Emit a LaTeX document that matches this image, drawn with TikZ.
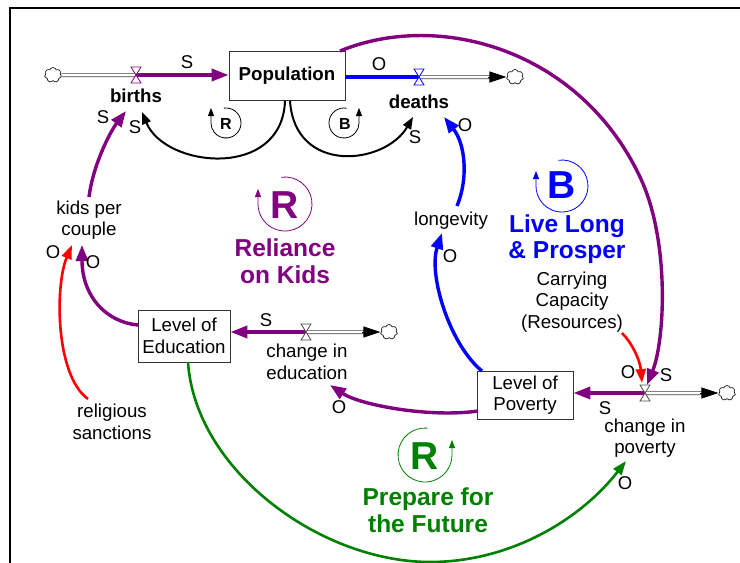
\documentclass[tikz,border=0pt]{standalone}
\usepackage{fontspec}
\setmainfont{Liberation Sans}
\usetikzlibrary{arrows.meta,shapes.symbols}
\definecolor{kpurple}{RGB}{128,0,128}
\definecolor{kblue}{RGB}{0,0,255}
\definecolor{kgreen}{RGB}{0,128,0}
\definecolor{kred}{RGB}{255,0,0}
\begin{document}
\begin{tikzpicture}[x=1pt,y=-1pt,
  txt/.style={font=\fontsize{18.7}{21.5}\selectfont, align=center, inner sep=0pt},
  btxt/.style={font=\fontsize{18.7}{21.5}\selectfont\bfseries, align=center, inner sep=0pt},
  pol/.style={font=\fontsize{18.5}{20}\selectfont, inner sep=0pt},
  stock/.style={draw=black!80, line width=0.8pt, align=center, inner sep=0pt,
    font=\fontsize{18.7}{21.5}\selectfont},
  looptitle/.style={font=\fontsize{24.5}{26.5}\selectfont\bfseries, align=center, inner sep=0pt},
  bigsym/.style={font=\fontsize{39}{39}\selectfont\bfseries, inner sep=0pt},
  smallsym/.style={font=\fontsize{16}{16}\selectfont\bfseries, inner sep=0pt},
  sink/.style={cloud, cloud puffs=7, aspect=1.1, draw, line width=0.6pt,
    minimum width=17pt, minimum height=15pt, inner sep=0pt},
  pipe/.style={draw=black!75, line width=0.7pt, double=white, double distance=2.6pt},
  pipehead/.style={line width=0.8pt, -{Triangle[length=17pt,width=11pt]}},
  flowline/.style={line width=3.6pt, -{Triangle[length=17pt,width=12pt]}},
  thick link/.style={line width=3.4pt, -{Triangle[length=16pt,width=12pt]}},
  thin link/.style={line width=2pt, -{Triangle[length=12pt,width=9pt]}},
  mid link/.style={line width=2.6pt, -{Triangle[length=14pt,width=10pt]}},
  loopsym/.style={line width=0.8pt, -{Triangle[length=8pt,width=6pt]}},
  pics/valve/.style={code={
    \draw[pic actions, fill=white, line width=0.8pt]
      (-5,-8) -- (5,-8) -- (-5,8) -- (5,8) -- cycle;}}
]
\useasboundingbox (0,0) rectangle (740,563);

% outer frame
\draw[line width=1.6pt] (10,563) -- (10,8) -- (740,8);

% ---- stocks ----
\node[stock, font=\fontsize{18.7}{21.5}\selectfont\bfseries,
  minimum width=116pt, minimum height=49pt] (pop) at (287,75.5) {Population};
\node[stock, minimum width=92pt, minimum height=52pt] (edu) at (184,336) {Level of\\Education};
\node[stock, minimum width=96pt, minimum height=48pt] (pov) at (525,395) {Level of\\Poverty};

% ---- valve positions ----
\coordinate (vb) at (136,75);
\coordinate (vd) at (419,77);
\coordinate (ve) at (306,332);
\coordinate (vp) at (645,393);

% ---- sources and sinks ----
\node[sink] (cb) at (53,75) {};
\node[sink] (cd) at (515,77) {};
\node[sink] (ce) at (389,332) {};
\node[sink] (cp) at (727,393) {};

% ---- variables ----
\node[btxt] (births) at (136,96) {births};
\node[btxt] (deaths) at (419,102) {deaths};
\node[txt] (kids) at (89,220) {kids per\\couple};
\node[txt] (relig) at (112,422) {religious\\sanctions};
\node[txt] (longev) at (451,221) {longevity};
\node[txt] (carry) at (572,302) {Carrying\\Capacity\\(Resources)};
\node[txt] (chedu) at (307,362) {change in\\education};
\node[txt] (chpov) at (645,438) {change in\\poverty};

% ---- loop names ----
\node[looptitle, text=kpurple] (tRK) at (285,261) {Reliance\\on Kids};
\node[looptitle, text=kblue] (tLL) at (567,239) {Live Long\\\& Prosper};
\node[looptitle, text=kgreen] (tPF) at (428,510) {Prepare for\\the Future};

% ---- loop symbols ----
\node[smallsym] (sR) at (226,124) {R};
\node[smallsym] (sB) at (345,124) {B};
\node[bigsym, text=kpurple] (bR1) at (285,205) {R};
\node[bigsym, text=kblue] (bB) at (562,185) {B};
\node[bigsym, text=kgreen] (bR2) at (425,456) {R};

\draw[loopsym] (226,123) ++(262:15) arc[start angle=262, end angle=540, radius=15] -- ++(0,-15);
\draw[loopsym] (344,123) ++(280:15) arc[start angle=280, end angle=0, radius=15] -- ++(0,-15);
\draw[loopsym, draw=kpurple] (285,204) ++(262:27) arc[start angle=262, end angle=540, radius=27] -- ++(0,-15);
\draw[loopsym, draw=kblue] (562,186) ++(262:26) arc[start angle=262, end angle=540, radius=26] -- ++(0,-15);
\draw[loopsym, draw=kgreen] (425,455) ++(275:27) arc[start angle=275, end angle=0, radius=27] -- ++(0,-15);

% ---- pipes ----
\draw[pipe] (cb.east) -- (vb);
\draw[pipe] (vd) -- ([xshift=-14pt]cd.west);
\draw[pipehead] ([xshift=-18pt]cd.west) -- (cd.west);
\draw[pipe] (ve) -- ([xshift=-14pt]ce.west);
\draw[pipehead] ([xshift=-18pt]ce.west) -- (ce.west);
\draw[pipe] (vp) -- ([xshift=-14pt]cp.west);
\draw[pipehead] ([xshift=-18pt]cp.west) -- (cp.west);

% ---- flows ----
\draw[flowline, draw=kpurple] (vb) -- (pop.west |- vb);
\draw[line width=3.4pt, draw=kblue] (pop.east |- vd) -- (vd);
\draw[flowline, draw=kpurple] (ve) -- (edu.east |- ve);
\draw[flowline, draw=kpurple] (vp) -- (pov.east |- vp);

% ---- valves ----
\pic[draw=kpurple] at (vb) {valve};
\pic[draw=kblue] at (vd) {valve};
\pic[draw=black!70] at (ve) {valve};
\pic[draw=black!70] at (vp) {valve};

% ---- connector end points ----
\coordinate (popBL) at (285,101);
\coordinate (popBR) at (290,101);
\coordinate (popTR) at (340,51);
\coordinate (birthsIn1) at (142,112);
\coordinate (birthsIn2) at (126,111);
\coordinate (deathsIn1) at (413,117);
\coordinate (deathsIn2) at (444,117);
\coordinate (kidsOut) at (89,197);
\coordinate (kidsIn1) at (82,245);
\coordinate (kidsIn2) at (72,245);
\coordinate (religOut) at (88,399);
\coordinate (longOut) at (457,206);
\coordinate (longIn) at (442,233);
\coordinate (povTL) at (482,371);
\coordinate (povL) at (478,411);
\coordinate (eduL) at (138,325);
\coordinate (eduB) at (188,362);
\coordinate (cheduIn) at (330,385);
\coordinate (chpovIn) at (626,461);
\coordinate (carryOut) at (622,333);
\coordinate (vpTop1) at (642,383);
\coordinate (vpTop2) at (647,385);

% ---- causal links ----
\draw[thin link] (popBL) .. controls (282,180) and (165,168) .. (birthsIn1);
\draw[thin link] (popBR) .. controls (295,175) and (385,165) .. (deathsIn1);
\draw[thick link, draw=kpurple] (kidsOut) .. controls (93,165) and (110,132) .. (birthsIn2);
\draw[thick link, draw=kblue] (longOut) .. controls (468,180) and (466,145) .. (deathsIn2);
\draw[thick link, draw=kblue] (povTL) .. controls (450,345) and (428,275) .. (longIn);
\draw[thick link, draw=kpurple] (povL) .. controls (430,418) and (360,405) .. (cheduIn);
\draw[thick link, draw=kpurple] (eduL) .. controls (105,322) and (82,295) .. (kidsIn1);
\draw[mid link, draw=kred] (religOut) .. controls (55,375) and (55,285) .. (kidsIn2);
\draw[mid link, draw=kgreen] (eduB) .. controls (195,470) and (320,562) .. (430,562)
   .. controls (510,562) and (580,520) .. (chpovIn);
\draw[mid link, draw=kred] (carryOut) .. controls (632,343) and (640,360) .. (vpTop1);
\draw[thick link, draw=kpurple] (popTR) .. controls (440,10) and (580,50) .. (640,177)
   .. controls (670,240) and (665,340) .. (vpTop2);

% ---- polarity labels ----
\node[pol] (p1) at (187,62) {S};
\node[pol] (p2) at (379,64) {O};
\node[pol] (p3) at (135,127) {S};
\node[pol] (p4) at (103,117) {S};
\node[pol] (p5) at (415,137) {S};
\node[pol] (p6) at (465,125) {O};
\node[pol] (p7) at (450,256) {O};
\node[pol] (p8) at (93,262) {O};
\node[pol] (p9) at (53,252) {O};
\node[pol] (p10) at (266,320) {S};
\node[pol] (p11) at (339,407) {O};
\node[pol] (p12) at (605,408) {S};
\node[pol] (p13) at (628,372) {O};
\node[pol] (p14) at (666,375) {S};
\node[pol] (p15) at (625,483) {O};
\end{tikzpicture}
\end{document}
